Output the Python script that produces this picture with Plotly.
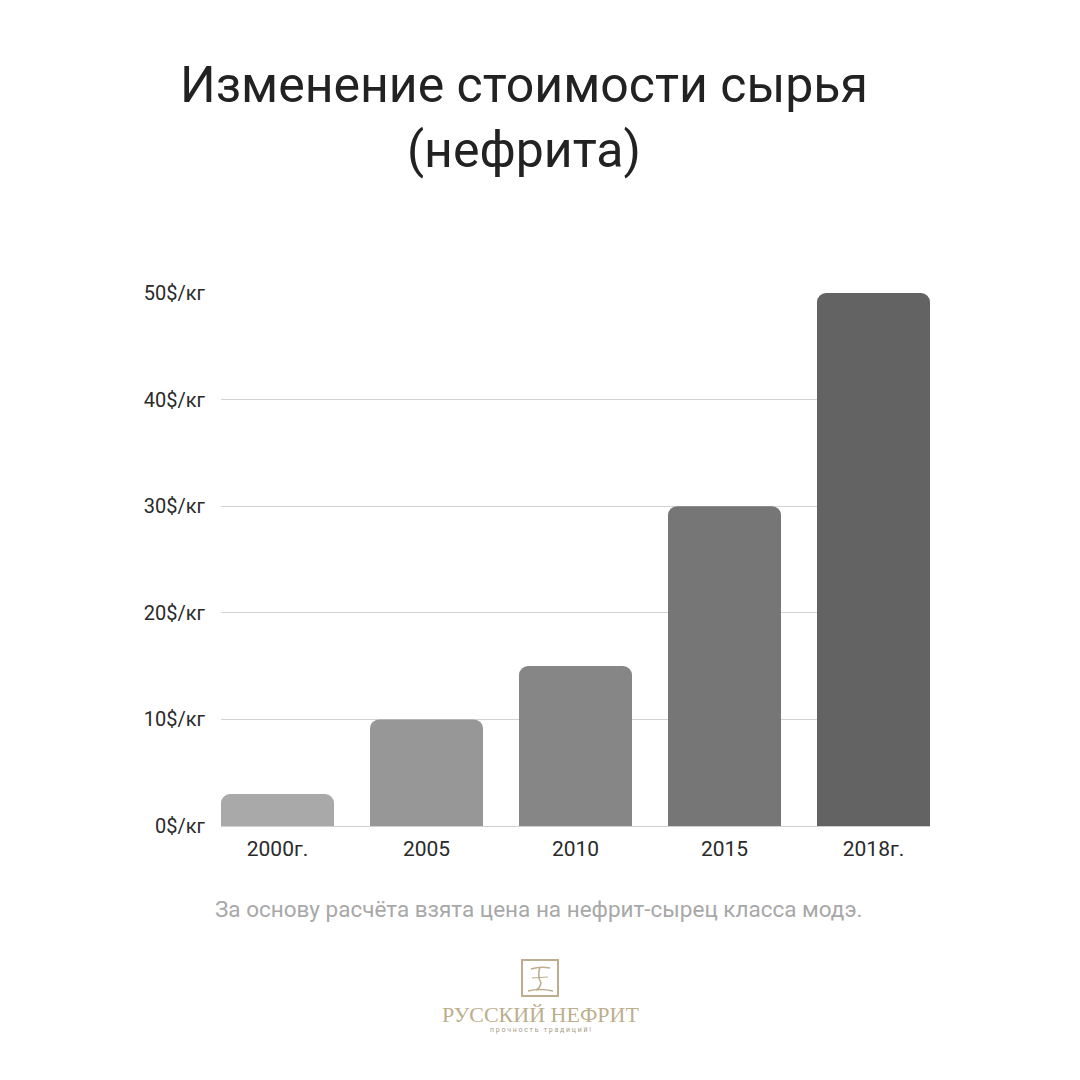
import plotly.graph_objects as go

years = ["2000г.", "2005", "2010", "2015", "2018г."]
prices = [3, 10, 15, 30, 50]
bar_colors = ["#a9a9a9", "#979797", "#868686", "#767676", "#636363"]
tick_vals = [0, 10, 20, 30, 40, 50]
tick_text = [f"{v}$/кг" for v in tick_vals]

title_text = "Изменение стоимости сырья<br>(нефрита)"
note_text = "За основу расчёта взята цена на нефрит-сырец класса модэ."
brand_text = "РУССКИЙ НЕФРИТ"
slogan_text = " ".join("прочность традиций!")

W = H = 1080
OFF = 8  # page body margin
L, R, T, B = 221, 930, 293, 826
GOLD = "#bcae8c"


def px(x):
    return (x - L) / (R - L)


def py(y):
    return (B - y) / (B - T)


fig = go.Figure(
    go.Bar(
        x=list(range(len(years))),
        y=prices,
        marker={"color": bar_colors, "cornerradius": 9, "line": {"width": 0}},
        width=113 / 149,
        hoverinfo="skip",
    )
)

fig.update_layout(
    width=W,
    height=H,
    margin={"l": L - OFF, "r": W - R + OFF, "t": T - OFF, "b": H - B + OFF},
    paper_bgcolor="white",
    plot_bgcolor="white",
    showlegend=False,
    font={"family": "Roboto, Liberation Sans, sans-serif", "color": "#2a2a2a"},
    xaxis={
        "range": [-113 / 298, 4 + 113 / 298],
        "tickvals": list(range(len(years))),
        "ticktext": years,
        "tickfont": {"size": 21, "color": "#2a2a2a"},
        "showgrid": False,
        "zeroline": False,
        "showline": False,
        "ticks": "",
        "ticklabelstandoff": 8,
    },
    yaxis={
        "range": [0, 50],
        "tickvals": tick_vals,
        "ticktext": tick_text,
        "tickfont": {"size": 20, "color": "#2a2a2a"},
        "showgrid": True,
        "gridcolor": "#d2d2d2",
        "gridwidth": 1,
        "zeroline": True,
        "zerolinecolor": "#cfcfcf",
        "zerolinewidth": 1,
        "showline": False,
        "ticks": "",
        "ticklabelstandoff": 15,
    },
)

annotations = [
    dict(
        text=title_text,
        x=px(524),
        y=py(117),
        xanchor="center",
        yanchor="middle",
        font={"family": "Roboto, sans-serif", "size": 50, "color": "#222222"},
    ),
    dict(
        text=note_text,
        x=px(538),
        y=py(909),
        xanchor="center",
        yanchor="middle",
        font={"size": 22.5, "color": "#a8a8a8"},
    ),
    dict(
        text=brand_text,
        x=px(540),
        y=py(1014),
        xanchor="center",
        yanchor="middle",
        font={"family": "Liberation Serif, DejaVu Serif, serif", "size": 22, "color": GOLD},
    ),
    dict(
        text=slogan_text,
        x=px(540),
        y=py(1030),
        xanchor="center",
        yanchor="middle",
        font={"size": 7, "color": "#a59a82"},
    ),
]
for a in annotations:
    a.update(xref="paper", yref="paper", showarrow=False)
fig.update_layout(annotations=annotations)

# logo icon: a square frame with brush strokes
shapes = [
    dict(type="rect", x0=px(522), x1=px(558), y0=py(996), y1=py(960),
         line={"color": GOLD, "width": 2}),
    dict(type="path",
         path=f"M {px(531)},{py(969)} Q {px(540)},{py(966)} {px(550)},{py(968)}",
         line={"color": GOLD, "width": 1.5}),
    dict(type="path",
         path=f"M {px(540)},{py(967)} Q {px(537)},{py(976)} {px(541)},{py(983)} Q {px(540)},{py(988)} {px(536)},{py(990)}",
         line={"color": GOLD, "width": 1.5}),
    dict(type="path",
         path=f"M {px(532)},{py(978)} L {px(548)},{py(977)}",
         line={"color": GOLD, "width": 1.2}),
    dict(type="path",
         path=f"M {px(528)},{py(991)} Q {px(540)},{py(988)} {px(553)},{py(991)}",
         line={"color": GOLD, "width": 1.5}),
]
for s in shapes:
    s.update(xref="paper", yref="paper", layer="above")
fig.update_layout(shapes=shapes)

fig.write_html("out.html")
